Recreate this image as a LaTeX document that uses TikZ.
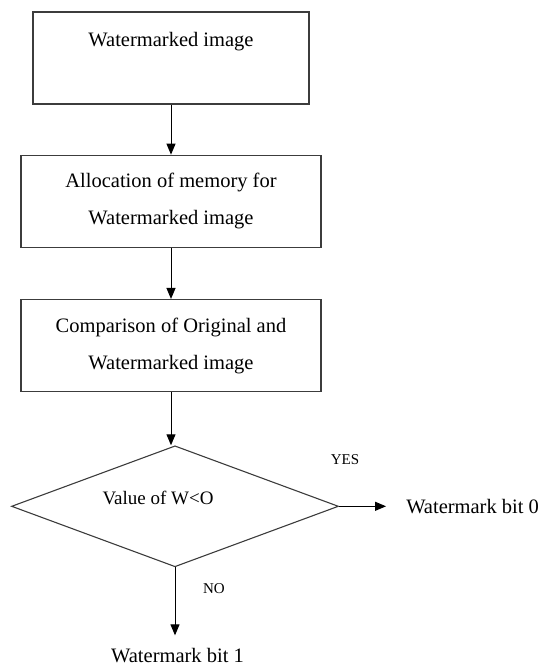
\documentclass[tikz,border=0pt]{standalone}
\usepackage{fontspec}
\setmainfont{Liberation Serif}
\usetikzlibrary{arrows.meta,positioning,shapes.geometric}
\definecolor{EdgeGray}{HTML}{3C3C3C}

\begin{document}
\begin{tikzpicture}[x=1pt, y=-1pt,
    font=\fontsize{20.5}{37}\selectfont,
    % process boxes of the flow
    stage/.style={draw=EdgeGray, line width=1.3pt, align=center, minimum width=300pt, minimum height=92pt, inner sep=0pt},
    decision/.style={draw=EdgeGray, line width=1.1pt, diamond, shape aspect=2.7, minimum width=327pt, minimum height=121pt, inner sep=0pt},
    outcome/.style={inner sep=0pt},
    tag/.style={font=\fontsize{15}{17}\selectfont, inner sep=0pt},
    arr/.style={-{Triangle[length=11pt,width=9pt]}, line width=1pt, draw=black}
]
\useasboundingbox (0,0) rectangle (544,667);

% main column
\node[stage, minimum width=276pt] (marked) at (171,58) {Watermarked image\\ \mbox{}};
\node[stage, below=50pt of marked] (alloc) {Allocation of memory for\\Watermarked image};
\node[stage, below=51pt of alloc] (compare) {Comparison of Original and\\Watermarked image};
\node[decision, below=53pt of compare, xshift=4pt,
      label={[font=\fontsize{19}{22}\selectfont, xshift=-17pt, yshift=8pt]center:Value of W<O}] (test) {};

% results
\node[outcome, right=67pt of test] (bitzero) {Watermark bit 0};
\node[outcome, below=81pt of test, xshift=2.5pt] (bitone) {Watermark bit 1};
\node[tag] (yes) at (345,460) {YES};
\node[tag] (no) at (214,589) {NO};

\draw[arr] (marked) -- (alloc);
\draw[arr] (alloc) -- (compare);
\draw[arr] (compare.south) -- (compare.south |- test.north);
\draw[arr, shorten >=20pt] (test.east) -- (bitzero.west);
\draw[arr, shorten >=13pt] (test.south) -- (test.south |- bitone.north);

\end{tikzpicture}
\end{document}
